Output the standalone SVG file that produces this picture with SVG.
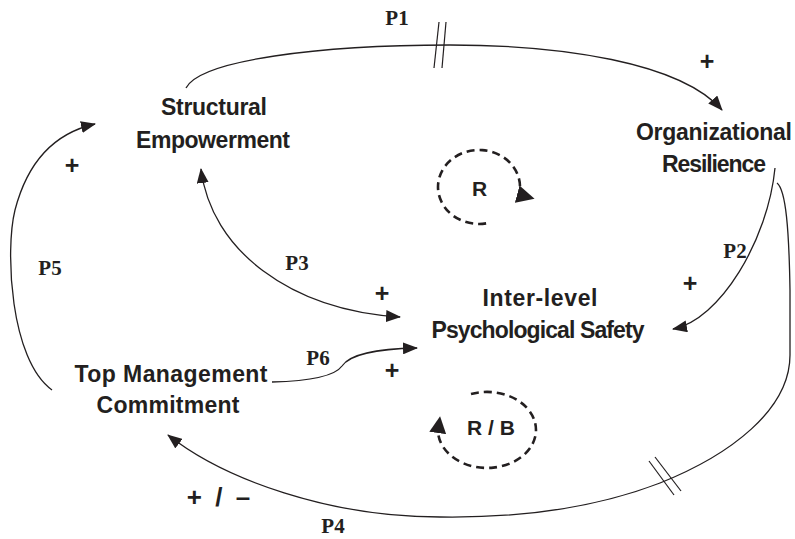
<svg xmlns="http://www.w3.org/2000/svg" width="795" height="539" viewBox="0 0 795 539">
  <style>
    .node { font-family: "Liberation Sans", Arial, sans-serif; font-weight: bold; font-size: 23px; fill: #231f20; text-anchor: middle; }
    .plab { font-family: "Liberation Serif", "Times New Roman", serif; font-weight: bold; font-size: 21px; fill: #231f20; text-anchor: middle; }
    .sign { font-family: "Liberation Sans", Arial, sans-serif; font-weight: bold; font-size: 25px; fill: #231f20; text-anchor: middle; }
    .loop { font-family: "Liberation Sans", Arial, sans-serif; font-weight: bold; font-size: 21px; fill: #231f20; text-anchor: middle; }
    .link { fill: none; stroke: #231f20; stroke-width: 1.3; }
    .hash { fill: none; stroke: #231f20; stroke-width: 1.2; }
    .dash { fill: none; stroke: #231f20; stroke-width: 2.6; stroke-dasharray: 8 5; }
  </style>
  <defs>
    <marker id="arrow" markerUnits="userSpaceOnUse" viewBox="0 0 15 12" markerWidth="15" markerHeight="12" refX="14" refY="6" orient="auto-start-reverse">
      <path d="M0,0 L15,6 L0,12 z" fill="#231f20"/>
    </marker>
    <marker id="loopR" markerUnits="userSpaceOnUse" viewBox="0 0 18 18" markerWidth="18" markerHeight="18" refX="2" refY="9" orient="15">
      <path d="M0,0 L18,9 L0,18 z" fill="#231f20"/>
    </marker>
    <marker id="loopRB" markerUnits="userSpaceOnUse" viewBox="0 0 17 17" markerWidth="17" markerHeight="17" refX="2" refY="8.5" orient="-82">
      <path d="M0,0 L17,8.5 L0,17 z" fill="#231f20"/>
    </marker>
  </defs>

  <g id="connectors">
    <!-- P1 -->
    <path class="link" d="M186,88 C200,60 320,45 450,45 C560,45 680,62 722,110" marker-end="url(#arrow)"/>
    <line class="hash" x1="439" y1="22" x2="434" y2="68"/>
    <line class="hash" x1="446" y1="22" x2="442" y2="68"/>
    <!-- P2 -->
    <path class="link" d="M775,168 C768,240 720,320 673,329" marker-end="url(#arrow)"/>
    <!-- P3 -->
    <path class="link" d="M201,169 C211,250 290,310 400,317" marker-start="url(#arrow)" marker-end="url(#arrow)"/>
    <!-- P4 -->
    <path class="link" d="M777,183 C786,190 789,230 790,290 L790,355 C790,410 730,455 660,483 C590,510 510,518 440,517 C330,517 225,480 168,435" marker-end="url(#arrow)"/>
    <line class="hash" x1="649" y1="461" x2="674" y2="495"/>
    <line class="hash" x1="655" y1="457" x2="681" y2="491"/>
    <!-- P5 -->
    <path class="link" d="M52,390 C10,360 5,250 15,210 C28,160 55,133 95,124" marker-end="url(#arrow)"/>
    <!-- P6 -->
    <path class="link" d="M272,382 C310,381 335,376 342,366 C350,354 375,349 417,348" marker-end="url(#arrow)"/>
  </g>

  <g id="labels">
    <text class="plab" x="397" y="25">P1</text>
    <text class="sign" x="707" y="70">+</text>
    <text class="plab" x="735" y="258">P2</text>
    <text class="sign" x="690" y="292">+</text>
    <text class="plab" x="297" y="270">P3</text>
    <text class="sign" x="382" y="302">+</text>
    <text class="plab" x="333" y="533">P4</text>
    <text class="sign" x="220" y="506" style="font-size:26px;letter-spacing:3px">+ / –</text>
    <text class="plab" x="50" y="275">P5</text>
    <text class="sign" x="72" y="174">+</text>
    <text class="plab" x="318" y="365">P6</text>
    <text class="sign" x="392" y="379">+</text>
  </g>

  <g id="loop-R">
    <path class="dash" d="M486.1,223.4 A41,37 0 1 1 519.1,194.7" marker-end="url(#loopR)"/>
    <text class="loop" x="479.5" y="196">R</text>
  </g>

  <g id="loop-RB">
    <path class="dash" d="M471,394 A49,38 0 1 1 438,431" marker-end="url(#loopRB)"/>
    <text class="loop" x="491" y="435">R / B</text>
  </g>

  <g id="node-structural-empowerment">
    <text class="node" x="214" y="115" textLength="106">Structural</text>
    <text class="node" x="213" y="148" textLength="154">Empowerment</text>
  </g>
  <g id="node-organizational-resilience">
    <text class="node" x="714" y="140" textLength="156">Organizational</text>
    <text class="node" x="714" y="172" textLength="104">Resilience</text>
  </g>
  <g id="node-psychological-safety">
    <text class="node" x="540" y="306" textLength="115">Inter-level</text>
    <text class="node" x="538" y="338" textLength="213">Psychological Safety</text>
  </g>
  <g id="node-top-management">
    <text class="node" x="171" y="382" textLength="193">Top Management</text>
    <text class="node" x="168" y="413" textLength="143">Commitment</text>
  </g>
</svg>
